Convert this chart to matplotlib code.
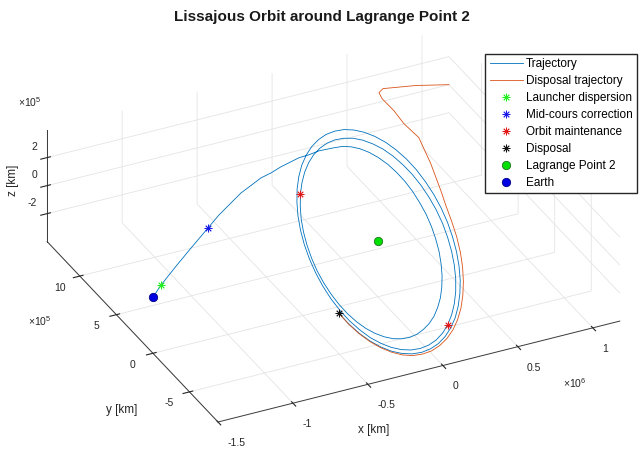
import numpy as np
import matplotlib
matplotlib.use("Agg")
import matplotlib.pyplot as plt
from matplotlib.ticker import FuncFormatter
from mpl_toolkits.mplot3d import proj3d

plt.rcParams["font.family"] = ["Liberation Sans", "DejaVu Sans"]
plt.rcParams["mathtext.fontset"] = "custom"
plt.rcParams["mathtext.rm"] = "Liberation Sans"
plt.rcParams["grid.color"] = "#e4e4e4"
plt.rcParams["grid.linewidth"] = 0.6

# all positions in 10^6 km, Lagrange point 2 at the origin
# transfer leg from Earth up to the orbit insertion
transfer_x = [-1.5, -1.42, -1.28, -1.15, -1.0, -0.89, -0.78, -0.68, -0.58, -0.5, -0.42, -0.34, -0.26, -0.2, -0.135, -0.06]
transfer_y = [0.0, 0.055, 0.136, 0.198, 0.273, 0.348, 0.409, 0.477, 0.546, 0.573, 0.600, 0.628, 0.655, 0.668, 0.675, 0.682]
transfer_z = [0.0, 0.034, 0.087, 0.147, 0.209, 0.231, 0.254, 0.261, 0.249, 0.267, 0.266, 0.273, 0.272, 0.278, 0.276, 0.282]

# Lissajous loops
orbit_x = [0.043, 0.082, 0.120, 0.154, 0.186, 0.213, 0.237, 0.255, 0.269, 0.277, 0.279, 0.277,
           0.269, 0.255, 0.237, 0.213, 0.186, 0.154, 0.120, 0.082, 0.043, 0.002, -0.040, -0.081,
           -0.121, -0.161, -0.198, -0.233, -0.265, -0.293, -0.316, -0.335, -0.349, -0.357, -0.360, -0.358,
           -0.349, -0.335, -0.316, -0.292, -0.262, -0.229, -0.192, -0.152, -0.110, -0.065, -0.020, 0.026,
           0.070, 0.114, 0.156, 0.195, 0.230, 0.262, 0.289, 0.310, 0.327, 0.337, 0.342, 0.341,
           0.334, 0.320, 0.301, 0.277, 0.248, 0.214, 0.176, 0.135, 0.092, 0.047, 0.000, -0.047,
           -0.094, -0.139, -0.182, -0.222, -0.258, -0.290, -0.316, -0.338, -0.353, -0.363, -0.366, -0.363,
           -0.354, -0.339, -0.318, -0.292, -0.260, -0.224, -0.184, -0.141, -0.095, -0.048, 0.000, 0.048,
           0.096, 0.142, 0.185, 0.226, 0.262, 0.295, 0.322, 0.344, 0.360, 0.369, 0.373, 0.370,
           0.361, 0.345, 0.324, 0.297, 0.265, 0.228, 0.187, 0.144, 0.097, 0.049, 0.000, -0.049,
           -0.097, -0.144, -0.189, -0.230, -0.267, -0.300, -0.328, -0.350, -0.366]
orbit_y = [0.680, 0.650, 0.610, 0.559, 0.498, 0.429, 0.352, 0.269, 0.182, 0.092, 0.000, -0.092,
           -0.182, -0.269, -0.352, -0.429, -0.498, -0.559, -0.610, -0.650, -0.680, -0.698, -0.704, -0.700,
           -0.684, -0.656, -0.617, -0.566, -0.506, -0.437, -0.360, -0.276, -0.187, -0.095, 0.000, 0.095,
           0.189, 0.281, 0.368, 0.449, 0.523, 0.589, 0.644, 0.689, 0.722, 0.744, 0.752, 0.748,
           0.730, 0.700, 0.658, 0.605, 0.540, 0.466, 0.384, 0.295, 0.200, 0.101, 0.000, -0.102,
           -0.202, -0.299, -0.392, -0.478, -0.557, -0.627, -0.686, -0.734, -0.769, -0.791, -0.800, -0.794,
           -0.774, -0.741, -0.695, -0.637, -0.568, -0.490, -0.402, -0.308, -0.209, -0.105, 0.000, 0.105,
           0.209, 0.310, 0.405, 0.493, 0.573, 0.644, 0.703, 0.751, 0.785, 0.807, 0.814, 0.808,
           0.788, 0.754, 0.707, 0.649, 0.578, 0.498, 0.410, 0.314, 0.212, 0.107, 0.000, -0.107,
           -0.213, -0.315, -0.412, -0.502, -0.584, -0.655, -0.716, -0.764, -0.799, -0.821, -0.829, -0.822,
           -0.802, -0.767, -0.720, -0.660, -0.589, -0.507, -0.417, -0.319, -0.216]
orbit_z = [0.278, 0.293, 0.302, 0.307, 0.306, 0.300, 0.289, 0.273, 0.252, 0.227, 0.198, 0.166,
           0.130, 0.093, 0.054, 0.014, -0.026, -0.066, -0.104, -0.141, -0.176, -0.207, -0.235, -0.260,
           -0.280, -0.295, -0.306, -0.311, -0.311, -0.306, -0.296, -0.280, -0.259, -0.234, -0.205, -0.172,
           -0.136, -0.097, -0.056, -0.015, 0.027, 0.069, 0.110, 0.150, 0.187, 0.221, 0.251, 0.277,
           0.299, 0.315, 0.327, 0.332, 0.332, 0.327, 0.315, 0.298, 0.276, 0.250, 0.218, 0.183,
           0.144, 0.103, 0.060, 0.016, -0.029, -0.074, -0.118, -0.159, -0.199, -0.235, -0.267, -0.294,
           -0.317, -0.334, -0.345, -0.350, -0.349, -0.343, -0.330, -0.312, -0.289, -0.260, -0.227, -0.190,
           -0.150, -0.107, -0.062, -0.016, 0.030, 0.076, 0.120, 0.163, 0.203, 0.239, 0.272, 0.300,
           0.322, 0.340, 0.351, 0.356, 0.356, 0.349, 0.336, 0.318, 0.294, 0.265, 0.231, 0.194,
           0.152, 0.109, 0.063, 0.016, -0.031, -0.077, -0.123, -0.166, -0.207, -0.244, -0.277, -0.305,
           -0.328, -0.346, -0.357, -0.363, -0.362, -0.355, -0.342, -0.323, -0.299]

# disposal leg, leaving from the disposal manoeuvre point
disposal_x = [-0.366, -0.351, -0.329, -0.302, -0.269, -0.232, -0.191, -0.146, -0.099, -0.050, 0.000,
              0.050, 0.100, 0.148, 0.194, 0.236, 0.275, 0.310, 0.340, 0.364, 0.382, 0.398,
              0.417, 0.479, 0.533, 0.520, 0.529, 0.530, 0.548, 0.597, 0.891, 1.18]
disposal_y = [-0.216, -0.320, -0.418, -0.510, -0.593, -0.667, -0.729, -0.779, -0.815, -0.838, -0.846,
              -0.841, -0.821, -0.787, -0.739, -0.679, -0.607, -0.524, -0.432, -0.332, -0.226, -0.115,
              -0.007, 0.258, 0.532, 0.710, 0.865, 1.029, 1.107, 1.153, 1.304, 1.446]
disposal_z = [-0.299, -0.324, -0.344, -0.357, -0.365, -0.366, -0.362, -0.351, -0.333, -0.311, -0.282,
              -0.249, -0.212, -0.171, -0.127, -0.080, -0.032, 0.017, 0.066, 0.115, 0.162, 0.208,
              0.250, 0.280, 0.300, 0.305, 0.310, 0.305, 0.300, 0.290, 0.150, 0.0]

launch_pt = [-1.42, 0.055, 0.034]
midcourse_pt = [-1.0, 0.273, 0.209]
maint_x = [-0.229, 0.092]
maint_y = [0.589, -0.769]
maint_z = [0.069, -0.199]
disposal_pt = [-0.366, -0.216, -0.299]
l2_pt = [0.0, 0.0, 0.0]
earth_pt = [-1.5, 0.0, 0.0]

x_lim = (-1.5, 1.18)
y_lim = (-0.89, 1.446)
z_lim = (-0.4, 0.4)
x_ticks = [-1.5, -1, -0.5, 0, 0.5, 1]
y_ticks = [-0.5, 0, 0.5, 1.0]
z_ticks = [-0.2, 0, 0.2]

W, H = 641, 450
fig = plt.figure(figsize=(W / 100, H / 100), dpi=100)
ax = fig.add_subplot(projection="3d", proj_type="ortho")

blue = "#0072bd"
orange = "#d95319"
star = (8, 2, 0)

ax.plot(transfer_x + orbit_x, transfer_y + orbit_y, transfer_z + orbit_z, color=blue, lw=0.6,
        solid_joinstyle="round", label="Trajectory")
ax.plot(disposal_x, disposal_y, disposal_z, color=orange, lw=0.6, solid_joinstyle="round",
        label="Disposal trajectory")
ax.plot([launch_pt[0]], [launch_pt[1]], [launch_pt[2]], ls="none", marker=star, ms=5.5, mew=0.6,
        color="#22ee22", label="Launcher dispersion")
ax.plot([midcourse_pt[0]], [midcourse_pt[1]], [midcourse_pt[2]], ls="none", marker=star, ms=5.5, mew=0.6,
        color="#1a1ae6", label="Mid-cours correction")
ax.plot(maint_x, maint_y, maint_z, ls="none", marker=star, ms=5.5, mew=0.6, color="#e01a1a",
        label="Orbit maintenance")
ax.plot([disposal_pt[0]], [disposal_pt[1]], [disposal_pt[2]], ls="none", marker=star, ms=5.5, mew=0.6,
        color="#111111", label="Disposal")
ax.plot([l2_pt[0]], [l2_pt[1]], [l2_pt[2]], ls="none", marker="o", ms=6, mfc="#00e000", mec="#207020",
        mew=0.6, label="Lagrange Point 2")
ax.plot([earth_pt[0]], [earth_pt[1]], [earth_pt[2]], ls="none", marker="o", ms=6, mfc="#0000e0", mec="#00008b",
        mew=0.6, label="Earth")

ax.set_xlim(x_lim)
ax.set_ylim(y_lim)
ax.set_zlim(z_lim)
ax.set_box_aspect((x_lim[1] - x_lim[0], y_lim[1] - y_lim[0], 0.98 * (z_lim[1] - z_lim[0])))
ax.view_init(elev=31, azim=-116)
ax.set_xticks(x_ticks)
ax.set_yticks(y_ticks)
ax.set_zticks(z_ticks)
ax.xaxis.set_major_formatter(FuncFormatter(lambda v, p: f"{v:g}"))
ax.yaxis.set_major_formatter(FuncFormatter(lambda v, p: f"{v * 10:g}"))
ax.zaxis.set_major_formatter(FuncFormatter(lambda v, p: f"{v * 10:g}"))
for axis in (ax.xaxis, ax.yaxis, ax.zaxis):
    axis.set_pane_color((1, 1, 1, 1))
    axis.line.set_color("#3a3a3a")
    axis.line.set_linewidth(0.7)
ax.tick_params(labelsize=7.5, colors="#262626", pad=0)
ax.tick_params(axis="x", pad=4)
ax.tick_params(axis="y", pad=3)
# z tick labels are put up-left of the ticks further down, like MATLAB does it
ax.zaxis.set_tick_params(labelleft=False, labelright=False)

ax.legend(loc="upper right", bbox_to_anchor=(637 / W, 1 - 54 / H), bbox_transform=fig.transFigure,
          fontsize=8.5, fancybox=False, framealpha=1, edgecolor="#262626", borderpad=0.35,
          labelspacing=0.42, handlelength=2.8, handletextpad=0.3, borderaxespad=0)

fig.text(322 / W, 1 - 17 / H, "Lissajous Orbit around Lagrange Point 2", ha="center", va="center",
         fontsize=11, fontweight="bold", color="#1a1a1a")
fig.text(374 / W, 1 - 430 / H, "x [km]", ha="center", va="center", fontsize=8.5, color="#262626")
fig.text(122 / W, 1 - 410 / H, "y [km]", ha="center", va="center", fontsize=8.5, color="#262626")
fig.text(13 / W, 1 - 180 / H, "z [km]", ha="center", va="center", rotation=90, fontsize=8.5, color="#262626")
fig.text(563 / W, 1 - 383 / H, r"$\times10^{6}$", ha="left", va="center", fontsize=7.5, color="#262626")
fig.text(28 / W, 1 - 321 / H, r"$\times10^{5}$", ha="left", va="center", fontsize=7.5, color="#262626")
fig.text(18 / W, 1 - 102 / H, r"$\times10^{5}$", ha="left", va="center", fontsize=7.5, color="#262626")


# fit the projected box onto the reference corners
def to_px(x, y, z):
    px, py, _ = proj3d.proj_transform(x, y, z, ax.get_proj())
    dx, dy = ax.transData.transform((px, py))
    return np.array([dx, H - dy])


box = {"left": 100.0, "bottom": 20.0, "side": 420.0}


def place():
    ax.set_position([box["left"] / W, box["bottom"] / H, box["side"] / W, box["side"] / H])
    fig.canvas.draw()
    for lab in ax.get_xticklabels():
        lab.set_horizontalalignment("left")
    for lab in ax.get_yticklabels():
        lab.set_verticalalignment("center_baseline")


target_a = np.array([218.0, 422.0])
target_c = np.array([620.0, 322.0])
place()
a = to_px(x_lim[0], y_lim[0], z_lim[0])
c = to_px(x_lim[1], y_lim[0], z_lim[0])
k = np.hypot(*(target_c - target_a)) / np.hypot(*(c - a))
cx = box["left"] + box["side"] / 2
cy = box["bottom"] + box["side"] / 2
box["side"] *= k
box["left"] = cx - box["side"] / 2
box["bottom"] = cy - box["side"] / 2
place()
a = to_px(x_lim[0], y_lim[0], z_lim[0])
box["left"] += target_a[0] - a[0]
box["bottom"] -= target_a[1] - a[1]
place()

# z tick labels, a little out along +y from the z axis
for zt in z_ticks:
    lx, ly = to_px(x_lim[0], y_lim[1] + 0.14, zt)
    fig.text(lx / W, 1 - ly / H, f"{zt * 10:g}", ha="right", va="center", fontsize=7.5, color="#262626")

fig.savefig("out.png", dpi=100)
